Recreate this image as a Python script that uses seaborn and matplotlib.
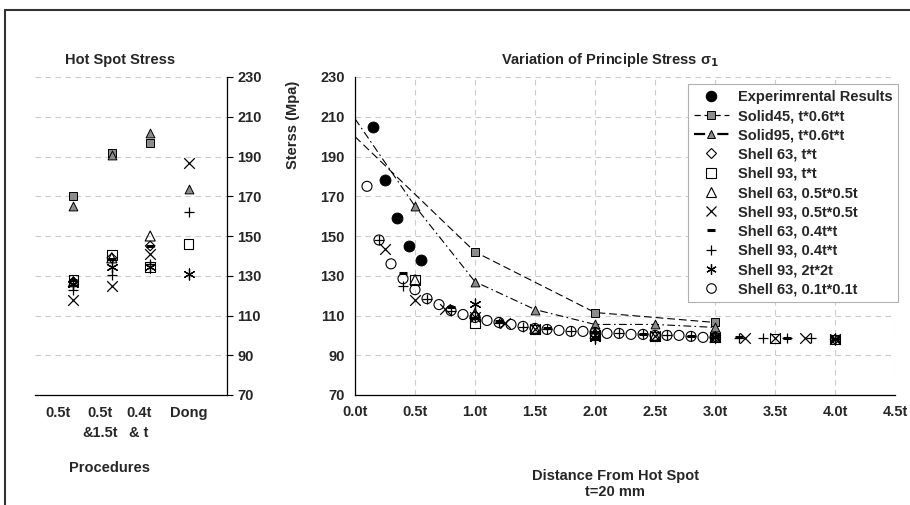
import numpy as np
import seaborn as sns
import matplotlib.pyplot as plt
from matplotlib.lines import Line2D

sns.set_theme(style="white")
plt.rcParams['font.family'] = ['Liberation Sans', 'DejaVu Sans']
plt.rcParams['font.weight'] = 'bold'
plt.rcParams['mathtext.default'] = 'bf'

FS = 10.5

# ---------------- data: left panel (hot spot stress per procedure) ----------------
procedures = ["0.5t", "0.5t\n&1.5t", "0.4t\n& t", "Dong"]
proc_pos = [1, 2, 3, 4]
proc_label_x = [0.6, 1.7, 2.7, 4.0]

hs = {
    "Solid45, t*0.6t*t":    [170, 192, 197, np.nan],
    "Solid95, t*0.6t*t":    [165, 191, 202, 173.5],
    "Shell 63, t*t":        [127, 139, 145, np.nan],
    "Shell 93, t*t":        [128, 140.5, 134.5, 146],
    "Shell 63, 0.5t*0.5t":  [127, 139, 150, np.nan],
    "Shell 93, 0.5t*0.5t":  [118, 125, 141, 186.5],
    "Shell 63, 0.4t*t":     [128, 138.5, 145, np.nan],
    "Shell 93, 0.4t*t":     [123, 130.5, 136, 162],
    "Shell 93, 2t*2t":      [126, 134.5, 134.5, 131],
}

# ---------------- data: right panel (stress vs distance, in t) ----------------
exp_x = [0.15, 0.25, 0.35, 0.45, 0.55]
exp_y = [205, 178, 159, 145, 138]

s45_x = [0, 1.0, 2.0, 3.0]
s45_y = [200, 142, 111.5, 106.5]

s95_x = [0, 0.5, 1.0, 1.5, 2.0, 2.5, 3.0]
s95_y = [209, 165, 127, 113, 105.5, 105.5, 104]

sh63_tt_x = [1.0, 2.0, 3.0, 4.0]
sh63_tt_y = [110, 100.5, 99, 98]

sh93_tt_x = [0.5, 1.0, 1.5, 2.0, 2.5, 3.0, 3.5, 4.0]
sh93_tt_y = [128, 106, 103, 100, 99.5, 99, 98.5, 98]

sh63_05_x = [0.5, 1.0, 1.5, 2.0, 2.5, 3.0]
sh63_05_y = [128, 111, 103.5, 101, 100, 99]

sh93_05_x = [0.25, 0.5, 0.75, 1.0, 1.25, 1.5, 2.0, 2.5, 3.0, 3.25, 3.5, 3.75, 4.0]
sh93_05_y = [143.5, 118, 113.5, 109, 106, 103, 100, 99.5, 99, 98.5, 98.5, 98.5, 98]

sh63_04_x = [0.4, 0.8, 1.2, 1.6, 2.0, 2.4, 2.8, 3.2, 3.6, 4.0]
sh63_04_y = [131.5, 114.5, 107, 103.5, 101.5, 100.5, 99.5, 99, 98.5, 98]

sh93_04_x = [0.2, 0.4, 0.6, 0.8, 1.0, 1.2, 1.4, 1.6, 1.8, 2.0,
             2.2, 2.4, 2.6, 2.8, 3.0, 3.2, 3.4, 3.6, 3.8]
sh93_04_y = [148, 125, 118.5, 112.5, 109, 106, 104, 103, 102, 101,
             101, 100.5, 100, 99.5, 99, 98.5, 98.5, 98.5, 98.5]

sh93_2t_x = [1.0, 2.0, 3.0, 4.0]
sh93_2t_y = [116, 98.5, 99, 98]

sh63_01_x = [0.1, 0.2, 0.3, 0.4, 0.5, 0.6, 0.7, 0.8, 0.9, 1.0,
             1.1, 1.2, 1.3, 1.4, 1.5, 1.6, 1.7, 1.8, 1.9, 2.0,
             2.1, 2.2, 2.3, 2.4, 2.5, 2.6, 2.7, 2.8, 2.9, 3.0]
sh63_01_y = [175, 148, 136, 128.5, 123, 118.5, 115.5, 112.5, 110.5, 109,
             107.5, 106.5, 105.5, 104.5, 103.5, 103, 102.5, 102, 102, 101.5,
             101, 101, 100.5, 100.5, 100, 100, 100, 99.5, 99, 99]

dist_ticks = [0.0, 0.5, 1.0, 1.5, 2.0, 2.5, 3.0, 3.5, 4.0, 4.5]
dist_labels = ["0.0t", "0.5t", "1.0t", "1.5t", "2.0t", "2.5t", "3.0t", "3.5t", "4.0t", "4.5t"]
stress_ticks = [70, 90, 110, 130, 150, 170, 190, 210, 230]

# marker styles per series
grey = "#8c8c8c"
asterisk = (6, 2, 0)
sty = {
    "Experimrental Results": dict(marker="o", s=62, color="black", edgecolor="black"),
    "Solid45, t*0.6t*t":     dict(marker="s", s=34, color=grey, edgecolor="black", linewidth=0.7),
    "Solid95, t*0.6t*t":     dict(marker="^", s=40, color=grey, edgecolor="black", linewidth=0.7),
    "Shell 63, t*t":         dict(marker="D", s=24, color="black", facecolor="none", edgecolor="black", linewidth=0.8),
    "Shell 93, t*t":         dict(marker="s", s=48, color="black", facecolor="none", edgecolor="black", linewidth=0.8),
    "Shell 63, 0.5t*0.5t":   dict(marker="^", s=52, color="black", facecolor="none", edgecolor="black", linewidth=0.8),
    "Shell 93, 0.5t*0.5t":   dict(marker="x", s=58, color="black", linewidth=0.9),
    "Shell 63, 0.4t*t":      dict(marker="_", s=30, color="black", linewidth=2.2),
    "Shell 93, 0.4t*t":      dict(marker="+", s=62, color="black", linewidth=0.9),
    "Shell 93, 2t*2t":       dict(marker=asterisk, s=62, color="black", linewidth=0.9),
    "Shell 63, 0.1t*0.1t":   dict(marker="o", s=52, color="black", facecolor="none", edgecolor="black", linewidth=0.8),
}

fig = plt.figure(figsize=(9.1, 5.05), dpi=100)
W, H = 910, 505


def px_axes(l, t, r, b):
    return fig.add_axes([l / W, 1 - b / H, (r - l) / W, (b - t) / H])


grid_kw = dict(color="#cccccc", linestyle=(0, (5, 4)), linewidth=0.8)
tick_kw = dict(labelsize=FS, length=4, width=0.8, color="black", direction="out")

# ---------------- left panel ----------------
axl = px_axes(35, 77, 227, 395)
for name, vals in hs.items():
    sns.scatterplot(x=proc_pos, y=vals, ax=axl, zorder=3, **sty[name])
axl.set_xlim(0, 5)
axl.set_ylim(70, 230)
axl.set_yticks(stress_ticks)
axl.set_xticks([0, 1, 2, 3, 4, 5])
axl.set_xticklabels([])
axl.yaxis.tick_right()
axl.tick_params(axis="both", **tick_kw)
axl.yaxis.grid(True, **grid_kw)
for sp in ["left", "top"]:
    axl.spines[sp].set_visible(False)
for sp in ["right", "bottom"]:
    axl.spines[sp].set_color("black")
    axl.spines[sp].set_linewidth(0.9)
for xl, lab in zip(proc_label_x, procedures):
    axl.text(xl, -0.035, lab, transform=axl.get_xaxis_transform(),
             ha="center", va="top", fontsize=FS, fontweight="bold", linespacing=1.5)
axl.set_xlabel("")
axl.set_ylabel("")

# ---------------- right panel ----------------
axr = px_axes(355, 77, 895, 395)
sns.lineplot(x=s45_x, y=s45_y, ax=axr, color="black", linestyle=(0, (7, 3.5)),
             linewidth=0.8, zorder=2)
sns.lineplot(x=s95_x, y=s95_y, ax=axr, color="black", linestyle=(0, (7, 3, 1.5, 3)),
             linewidth=0.8, zorder=2)
series = [
    ("Experimrental Results", exp_x, exp_y),
    ("Solid45, t*0.6t*t", s45_x[1:], s45_y[1:]),
    ("Solid95, t*0.6t*t", s95_x[1:], s95_y[1:]),
    ("Shell 63, t*t", sh63_tt_x, sh63_tt_y),
    ("Shell 93, t*t", sh93_tt_x, sh93_tt_y),
    ("Shell 63, 0.5t*0.5t", sh63_05_x, sh63_05_y),
    ("Shell 93, 0.5t*0.5t", sh93_05_x, sh93_05_y),
    ("Shell 63, 0.4t*t", sh63_04_x, sh63_04_y),
    ("Shell 93, 0.4t*t", sh93_04_x, sh93_04_y),
    ("Shell 93, 2t*2t", sh93_2t_x, sh93_2t_y),
    ("Shell 63, 0.1t*0.1t", sh63_01_x, sh63_01_y),
]
for name, xs, ys in series:
    sns.scatterplot(x=xs, y=ys, ax=axr, zorder=3, **sty[name])

axr.set_xlim(0, 4.5)
axr.set_ylim(70, 230)
axr.set_xticks(dist_ticks)
axr.set_xticklabels(dist_labels)
axr.set_yticks(stress_ticks)
axr.tick_params(axis="both", **tick_kw)
axr.grid(True, **grid_kw)
for sp in ["right", "top"]:
    axr.spines[sp].set_visible(False)
for sp in ["left", "bottom"]:
    axr.spines[sp].set_color("black")
    axr.spines[sp].set_linewidth(0.9)
axr.set_xlabel("")
axr.set_ylabel("")

# legend with line + marker handles
handles = []
for name, _, _ in series:
    st = sty[name]
    ls = "none"
    lw = 0.9
    if name.startswith("Solid45"):
        ls = (0, (5, 3))
    elif name.startswith("Solid95"):
        ls = (0, (5, 2, 1.5, 2))
        lw = 1.6
    fc = st.get("facecolor", st["color"])
    handles.append(Line2D([0], [0], color="black", linestyle=ls, linewidth=lw,
                          marker=st["marker"], markersize=np.sqrt(st["s"]) * 0.95,
                          markerfacecolor=fc, markeredgecolor=st.get("edgecolor", "black"),
                          markeredgewidth=st.get("linewidth", 0.8), label=name))
leg = axr.legend(handles=handles, loc="upper right", bbox_to_anchor=(898 / W, 1 - 84 / H),
                 bbox_transform=fig.transFigure, borderaxespad=0, fancybox=False,
                 framealpha=1, edgecolor="#b0b0b0", fontsize=FS, labelspacing=0.36,
                 handlelength=2.4, handletextpad=0.6, borderpad=0.4)
leg.get_frame().set_linewidth(0.8)
for t in leg.get_texts():
    t.set_fontweight("bold")

# titles and axis texts
fig.text(120 / W, 1 - 60 / H, "Hot Spot Stress", ha="center", va="center",
         fontsize=FS, fontweight="bold")
fig.text(610 / W, 1 - 60 / H, "Variation of Principle Stress σ$_1$", ha="center",
         va="center", fontsize=FS, fontweight="bold")
fig.text(293 / W, 1 - 125 / H, "Sterss (Mpa)", rotation=90, ha="center", va="center",
         fontsize=FS, fontweight="bold")
fig.text(110 / W, 1 - 468 / H, "Procedures", ha="center", va="center",
         fontsize=FS, fontweight="bold")
fig.text(615 / W, 1 - 476 / H, "Distance From Hot Spot", ha="center", va="center",
         fontsize=FS, fontweight="bold")
fig.text(615 / W, 1 - 492 / H, "t=20 mm", ha="center", va="center",
         fontsize=FS, fontweight="bold")

# outer frame (left and top edges)
fig.add_artist(Line2D([5 / W, 5 / W], [0, 1 - 10 / H], transform=fig.transFigure,
                      color="#333333", linewidth=1.5))
fig.add_artist(Line2D([5 / W, 1], [1 - 10 / H, 1 - 10 / H], transform=fig.transFigure,
                      color="#333333", linewidth=1.5))

fig.savefig("out.png", dpi=100, facecolor="white")
